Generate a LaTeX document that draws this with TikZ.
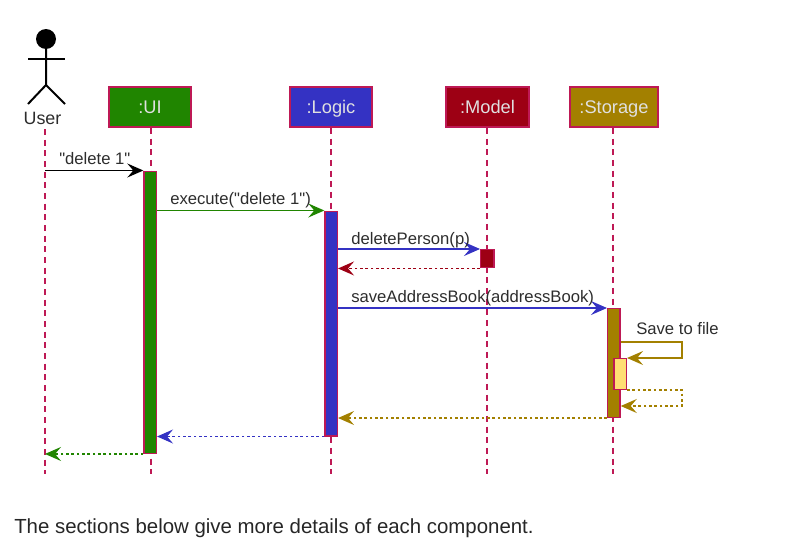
\documentclass[tikz,border=0pt]{standalone}
\usepackage{fontspec}
\setmainfont{Liberation Sans}
\newfontfamily\labelfont{Liberation Sans}
\usetikzlibrary{positioning, arrows.meta}
\definecolor{lifecol}{RGB}{190,25,85}
\definecolor{uicol}{RGB}{32,133,0}
\definecolor{logiccol}{RGB}{52,50,195}
\definecolor{modelcol}{RGB}{157,0,20}
\definecolor{storecol}{RGB}{163,128,0}
\definecolor{innercol}{RGB}{255,222,115}
\definecolor{labelcol}{RGB}{45,45,45}
\tikzset{
  headbox/.style  = {draw=lifecol, line width=1.4pt, inner sep=0pt,
                     minimum height=30pt, text=white!88!black,
                     text height=10pt, text depth=0pt,
                     font=\fontsize{13.7}{15}\selectfont},
  activebar/.style = {draw=lifecol, line width=1.1pt, inner sep=0pt,
                     minimum width=9.2pt, anchor=north west},
  lifeline/.style = {draw=lifecol, line width=0.9pt, dash pattern=on 4.5pt off 3.5pt},
  msgarr/.style   = {-{Stealth[length=12pt, width=10.5pt, inset=4.5pt]}, line width=0.9pt},
  retarr/.style   = {msgarr, dash pattern=on 2pt off 2pt},
  msglabel/.style = {text=labelcol, inner sep=0pt, anchor=base west,
                     font=\labelfont\fontsize{12.5}{14}\selectfont},
}
\begin{document}
\begin{tikzpicture}[x=0.75pt, y=-0.75pt]
    \useasboundingbox (0,0) rectangle (787,546);
    % Participants
    \node[circle, fill=black, minimum size=15pt, inner sep=0pt] (head) at (46,39) {};
    \coordinate (neck) at (46,49);
    \coordinate (hip) at (46,85);
    \coordinate (armleft) at (28,59);
    \coordinate (armright) at (65,59);
    \coordinate (legleft) at (28,104);
    \coordinate (legright) at (65,104);
    \draw[line width=1.5pt] (head) -- (neck) -- (hip) -- (legleft);
    \draw[line width=1.5pt] (hip) -- (legright);
    \draw[line width=1.5pt] (armleft) -- (armright);
    \node[text=labelcol, inner sep=0pt, font=\fontsize{13.4}{15}\selectfont] (user) at (42.5,118) {User};
    \node[headbox, fill=uicol, minimum width=61pt] (ui) at (150,107) {:UI};
    \node[headbox, fill=logiccol, minimum width=61pt] (logic) at (331,107) {:Logic};
    \node[headbox, fill=modelcol, minimum width=62pt] (model) at (487.5,107) {:Model};
    \node[headbox, fill=storecol, minimum width=66pt] (storage) at (614,107) {:Storage};
    % Lifelines
    \coordinate (userstart) at (45,129);
    \coordinate (userend) at (45,474);
    \coordinate (uiend) at (151,474);
    \coordinate (logicend) at (331,474);
    \coordinate (modelend) at (487,474);
    \coordinate (storageend) at (613,474);
    \draw[lifeline] (userstart) -- (userend);
    \draw[lifeline] (ui.south -| uiend) -- (uiend);
    \draw[lifeline] (logic.south -| logicend) -- (logicend);
    \draw[lifeline] (model.south -| modelend) -- (modelend);
    \draw[lifeline] (storage.south -| storageend) -- (storageend);
    % Activation bars
    \node[activebar, fill=uicol, minimum height=211.5pt] (uibar) at (143.3,170.5) {};
    \node[activebar, fill=logiccol, minimum height=168.4pt] (logicbar) at (324.3,210.5) {};
    \node[activebar, fill=modelcol, minimum width=10pt, minimum height=13.5pt] (modelbar) at (480,249) {};
    \node[activebar, fill=storecol, minimum height=81.4pt] (storebar) at (607,308) {};
    \node[activebar, fill=innercol, minimum height=22.9pt] (innerbar) at (613.3,358) {};
    % Calls
    \draw[msgarr, black] (userstart |- uibar.north west) -- (uibar.north west);
    \draw[msgarr, uicol] (uibar.east |- logicbar.north west) -- (logicbar.north west);
    \draw[msgarr, logiccol] (logicbar.east |- modelbar.north west) -- (modelbar.north west);
    \draw[retarr, modelcol] (modelbar.south west) -- (logicbar.east |- modelbar.south west);
    \draw[msgarr, logiccol] (logicbar.east |- storebar.north west) -- (storebar.north west);
    % Self call on storage
    \coordinate (saveout) at (682,342);
    \coordinate (saveback) at (682,406);
    \draw[msgarr, storecol] (storebar.east |- saveout) -- (saveout) |- (innerbar.north east);
    \draw[retarr, storecol] (innerbar.south east) -| (saveback) -- (storebar.east |- saveback);
    % Returns
    \draw[retarr, storecol] (storebar.south west) -- (logicbar.east |- storebar.south west);
    \draw[retarr, logiccol] (logicbar.south west) -- (uibar.east |- logicbar.south west);
    \draw[retarr, uicol] (uibar.south west) -- (userstart |- uibar.south west);
    % Labels
    \node[msglabel] (deletelabel) at (59,164) {"delete 1"};
    \node[msglabel] (executelabel) at (170,204) {execute("delete 1")};
    \node[msglabel] (deletepersonlabel) at (351,244) {deletePerson(p)};
    \node[msglabel] (savelabel) at (351,302) {saveAddressBook(addressBook)};
    \node[msglabel] (filelabel) at (636,334) {Save to file};
    \node[inner sep=0pt, anchor=base west, text=black!85, font=\fontsize{15.3}{17}\selectfont] (caption) at (14,533)
      {The sections below give more details of each component.};
\end{tikzpicture}
\end{document}
